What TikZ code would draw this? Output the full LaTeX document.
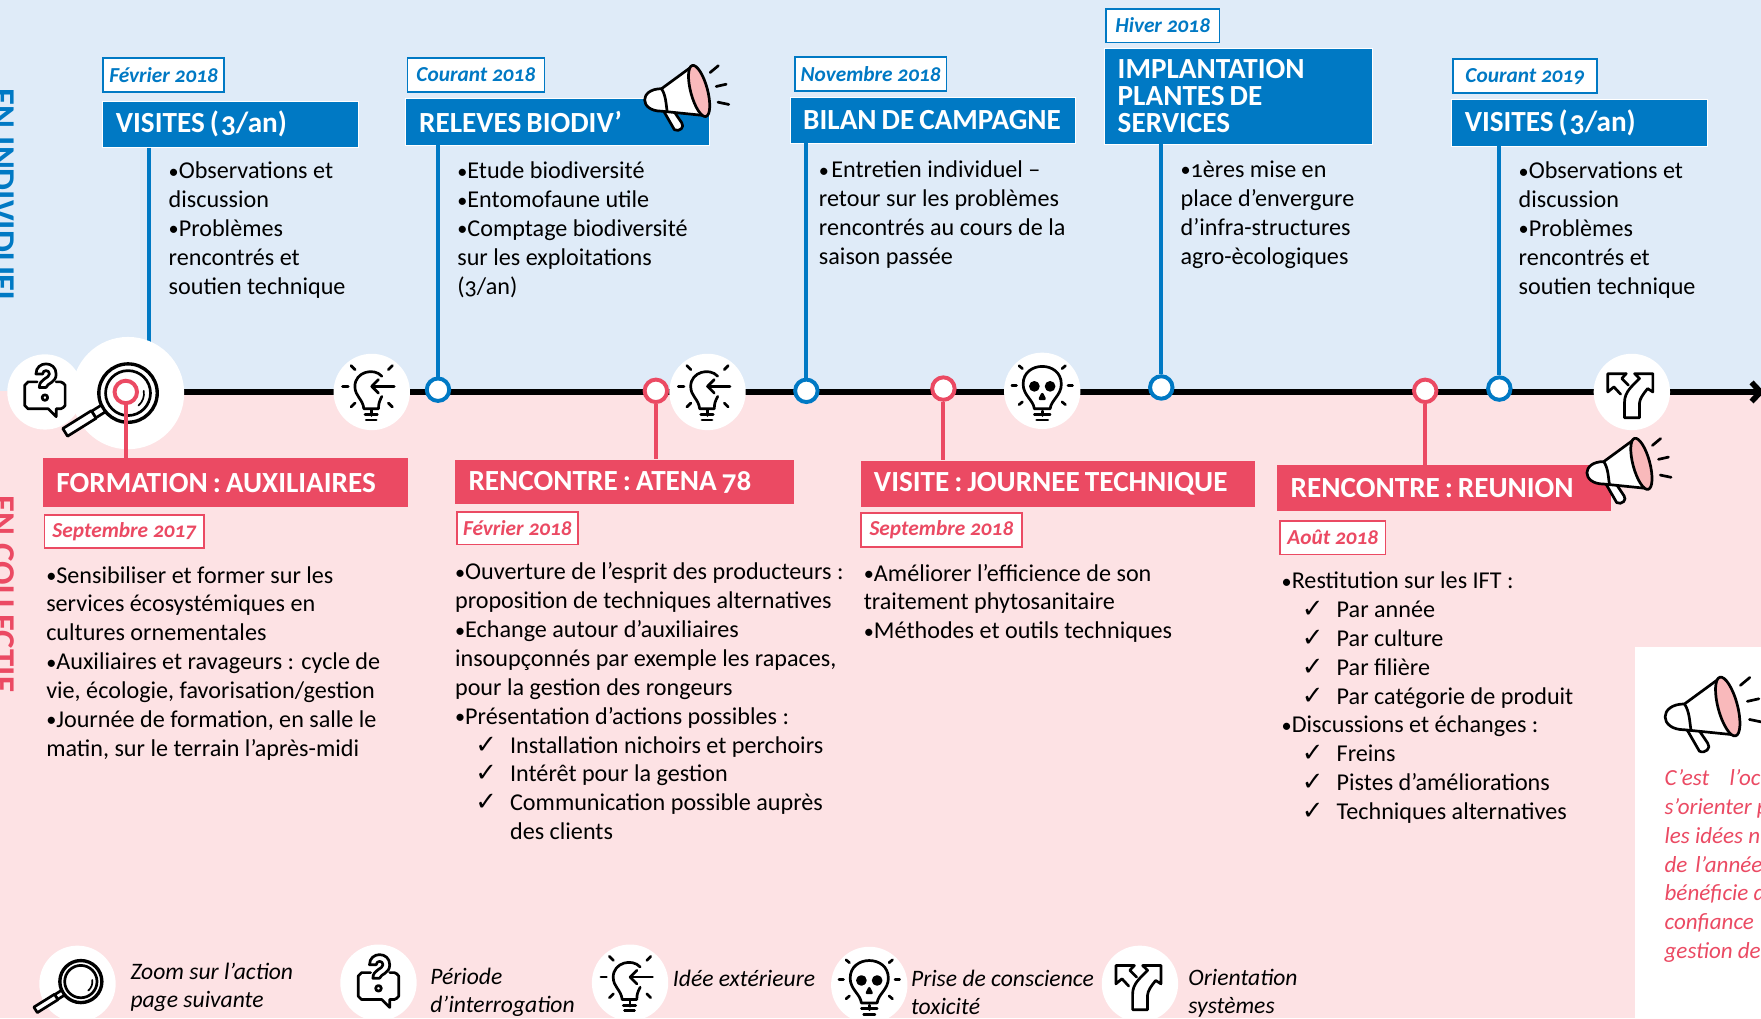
\documentclass[tikz,border=0pt]{standalone}
\usepackage{fontspec}
\usepackage{xcolor}
\setmainfont{Carlito}[Numbers=OldStyle]
\newfontfamily\symbfont{DejaVu Sans}
\usetikzlibrary{arrows.meta}
\definecolor{blue-main}{HTML}{0079C4}
\definecolor{pink-main}{HTML}{EB4A63}
\definecolor{blue-back}{HTML}{DFEBF8}
\definecolor{pink-back}{HTML}{FDE2E4}
\definecolor{pink-soft}{HTML}{F9B9BB}
\newcommand{\chkline}{\hspace*{18pt}\makebox[31pt][l]{\symbfont\fontsize{23}{23}\selectfont ✓}}
\newcommand{\pnt}{\makebox[9pt][l]{\raisebox{.5pt}{\fontsize{18}{18}\selectfont •}}}
\newcommand{\titlewords}[1]{{\spaceskip=.17em\relax #1}}
\tikzset{
    blue-title/.style = {draw=white, fill=blue-main, thin, text=white, anchor=north west, align=left, inner xsep=12pt, inner ysep=0pt, font=\fontsize{26}{24}\selectfont\bfseries},
    pink-title/.style = {blue-title, fill=pink-main, draw=none},
    blue-date/.style = {draw=blue-main, fill=white, line width=1.5pt, text=blue-main, anchor=north west, inner sep=0pt, font=\fontsize{19}{19}\selectfont\bfseries\itshape},
    pink-date/.style = {blue-date, draw=pink-main, text=pink-main},
    body-text/.style = {anchor=north west, align=left, inner sep=0pt, font=\fontsize{21.5}{25.7}\selectfont},
    legend-text/.style = {anchor=west, align=left, inner sep=0pt, font=\fontsize{21}{25}\selectfont\itshape},
    note-text/.style = {anchor=north west, align=left, inner sep=0pt, text=pink-main, font=\fontsize{20.5}{25.7}\selectfont\itshape},
    side-text/.style = {rotate=-90, anchor=base west, inner sep=0pt, font=\fontsize{31}{31}\selectfont\bfseries},
    icon-disc/.style = {circle, fill=white, inner sep=0pt, minimum size=#1},
    blue-mark/.style = {circle, draw=blue-main, fill=white, line width=3.5pt, inner sep=0pt, minimum size=20pt},
    pink-mark/.style = {blue-mark, draw=pink-main},
    blue-line/.style = {draw=blue-main, line width=3.5pt},
    pink-line/.style = {draw=pink-main, line width=3.5pt},
    icon-line/.style = {draw=black, line width=2.4pt, line cap=round, line join=round},
    zoom-icon/.pic = {
        \draw[icon-line, line width=3pt] (0,0) circle (26);
        \draw[icon-line] (0,0) circle (20);
        \draw[icon-line, line width=1.5pt] (14,-2) arc (-10:50:14);
        \draw[icon-line, fill=white, rotate=32] (-36,-3.5) rectangle (-26,3.5);
        \draw[icon-line, fill=white, rotate=32] (-66,-4) rectangle (-36,4);
    },
    quest-icon/.pic = {
        \draw[icon-line] (-7,-9) -- (-15,-9) to[bend right=20] (-18,-6) -- (-18,12) to[bend right=20] (-15,15) -- (3,15) -- (10,22) -- (10,15) -- (14,15) to[bend right=20] (18,12) -- (18,-6) to[bend right=20] (14,-9) -- (10,-9);
        \draw[icon-line] (-8,-16) .. controls (-8,-28) and (10,-28) .. (10,-16) .. controls (10,-8) and (2,-8) .. (1,-4) -- (-5,-4) .. controls (-5,-12) and (4,-12) .. (4,-16) .. controls (4,-20) and (-2,-20) .. (-2,-16) -- cycle;
        \draw[icon-line] (0,5) circle (2.5);
    },
    bulb-icon/.pic = {
        \draw[icon-line] (9,-14) .. controls (2,-22) and (-15,-18) .. (-15,-5) .. controls (-15,4) and (-8,6) .. (-7,15) -- (6,15) .. controls (6,10) and (7,8) .. (9,4);
        \draw[icon-line] (-6,20) -- (5,20) (-5,25) -- (4,25);
        \draw[icon-line] (20,-5) -- (0,-5);
        \draw[icon-line] (6,-11) -- (0,-5) -- (6,1);
        \foreach \a in {90,135,45,180,225,-45} {\draw[icon-line] (\a:21) ++(0,-5) -- ++(\a:5);}
    },
    skull-icon/.pic = {
        \draw[icon-line] (-7,16) .. controls (-8,8) and (-17,4) .. (-17,-6) .. controls (-17,-27) and (17,-27) .. (17,-6) .. controls (17,4) and (8,8) .. (7,16) -- cycle;
        \draw[icon-line, fill=black] (-7,-4) circle (3.5) (7,-4) circle (3.5);
        \draw[icon-line, fill=black] (0,3) -- (-2,7) -- (2,7) -- cycle;
        \draw[icon-line] (-7,21) -- (7,21) (-5,26) -- (5,26);
        \foreach \a in {90,140,40,180,0,220,-40} {\draw[icon-line] (\a:23) ++(0,-5) -- ++(\a:4);}
    },
    fork-icon/.pic = {
        \draw[icon-line] (-6.5,23) -- (6.8,23) -- (6.8,10) .. controls (7,6) and (10,2) .. (14,-3) -- (18.7,0) -- (18.7,-16.3) -- (2.4,-16.3) -- (6.8,-12) .. controls (0,-5) and (-6.5,0) .. (-6.5,9) -- cycle;
        \draw[icon-line] (-5,-16.3) -- (-21.4,-16.3) -- (-21.4,0) -- (-16,-4.5) -- (-10,2);
        \draw[icon-line] (-5,-16.3) -- (-9,-12) -- (-3,-6);
    },
    horn-icon/.pic = {
        \draw[icon-line, fill=white] (-19,12) -- (-9.5,28.5) .. controls (-5,31) and (0,26) .. (-3,22.4) -- (-10,12) -- cycle;
        \draw[icon-line, fill=white] (7,-28.5) -- (-21,-8) .. controls (-41,-8) and (-41,12) .. (-21,12) -- (18.5,16) -- cycle;
        \draw[icon-line, fill=pink-soft, rotate around={-75:(12.5,-6)}] (12.5,-6) ellipse (23.5 and 7.5);
        \draw[icon-line] (-21,-8) .. controls (-17,-2) and (-17,6) .. (-16,12);
        \draw[icon-line] (22.3,-22.4) -- (29.6,-28.5) (27.7,-10) -- (36.6,-12) (29.3,4) -- (38.9,6);
    },
}
\begin{document}
\begin{tikzpicture}[x=1pt, y=-1pt]
\useasboundingbox (0,0) rectangle (1568,906.6);
\clip (0,0) rectangle (1568,906.6);
\fill[blue-back] (0,0) rectangle (1568,348);
\fill[pink-back] (0,348) rectangle (1568,906.6);
\fill[white] (1456,576) rectangle (1568,906.6);

\node[side-text, text=blue-main] (side-indiv) at (-8,79) {EN INDIVIDUEL};
\node[side-text, text=pink-main] (side-coll) at (-8,441) {EN COLLECTIF};

\coordinate (axis-start) at (114,349);
\coordinate (axis-end) at (1571,349);
\draw[line width=5pt, -{Straight Barb[length=8pt, width=17pt]}] (axis-start) -- (axis-end);

\node[blue-title, text width=204pt, minimum height=41pt] (visites-a) at (91,90) {\titlewords{VISITES (\hspace{2pt}3/an)}};
\node[blue-title, text width=246pt, minimum height=42pt] (releves) at (361,87) {\titlewords{RELEVES BIODIV’}};
\node[blue-title, text width=230pt, minimum height=41pt] (bilan) at (703,86) {\titlewords{BILAN DE CAMPAGNE}};
\node[blue-title, text width=215pt, minimum height=85pt] (implant) at (983,43) {\titlewords{IMPLANTATION}\\\titlewords{PLANTES DE}\\\titlewords{SERVICES}};
\node[blue-title, text width=204pt, minimum height=42pt] (visites-b) at (1292,88) {\titlewords{VISITES (\hspace{2pt}3/an)}};

\node[pink-title, text width=301pt, minimum height=43pt] (formation) at (38,408) {\titlewords{FORMATION : AUXILIAIRES}};
\node[pink-title, text width=278pt, minimum height=40pt] (atena) at (405,409) {\titlewords{RENCONTRE : ATENA 78}};
\node[pink-title, text width=327pt, minimum height=41pt] (journee) at (766,410) {\titlewords{VISITE : JOURNEE TECHNIQUE}};
\node[pink-title, text width=273pt, minimum height=41pt] (reunion) at (1137,414) {\titlewords{RENCONTRE : REUNION}};

\node[blue-date, minimum width=108pt, minimum height=30pt] (date-a) at (91,51) {Février 2018};
\node[blue-date, minimum width=122pt, minimum height=30pt] (date-b) at (362,51) {Courant 2018};
\node[blue-date, minimum width=135pt, minimum height=30pt] (date-c) at (707,50) {Novembre 2018};
\node[blue-date, minimum width=101pt, minimum height=30pt] (date-d) at (984,7) {Hiver 2018};
\node[blue-date, minimum width=128pt, minimum height=30pt] (date-e) at (1293,52) {Courant 2019};

\node[pink-date, minimum width=142pt, minimum height=29pt] (date-f) at (39,458) {Septembre 2017};
\node[pink-date, minimum width=108pt, minimum height=29pt] (date-g) at (406,455) {Février 2018};
\node[pink-date, minimum width=143pt, minimum height=30pt] (date-h) at (766,456) {Septembre 2018};
\node[pink-date, minimum width=94pt, minimum height=30pt] (date-i) at (1139,463) {Août 2018};

\coordinate (mark-a) at (133,320);
\draw[blue-line] (visites-a.south -| mark-a) -- (mark-a);

\node[blue-mark] (mark-b) at (390,347) {};
\node[blue-mark] (mark-c) at (718,348) {};
\node[blue-mark] (mark-d) at (1034,345) {};
\node[blue-mark] (mark-e) at (1335,346) {};
\node[pink-mark] (mark-g) at (584,348) {};
\node[pink-mark] (mark-h) at (840,346) {};
\node[pink-mark] (mark-i) at (1269,348) {};

\draw[blue-line] (releves.south -| mark-b) -- (mark-b);
\draw[blue-line] (bilan.south -| mark-c) -- (mark-c);
\draw[blue-line] (implant.south -| mark-d) -- (mark-d);
\draw[blue-line] (visites-b.south -| mark-e) -- (mark-e);
\draw[pink-line] (mark-g) -- (atena.north -| mark-g);
\draw[pink-line] (mark-h) -- (journee.north -| mark-h);
\draw[pink-line] (mark-i) -- (reunion.north -| mark-i);

\node[icon-disc=67pt] (disc-quest) at (40,349) {};
\node[icon-disc=100pt] (disc-zoom) at (114,350) {};
\node[icon-disc=68pt] (disc-bulb-a) at (331,349) {};
\node[icon-disc=68pt] (disc-bulb-b) at (630,349) {};
\node[icon-disc=68pt] (disc-skull) at (928,348) {};
\node[icon-disc=68pt] (disc-fork) at (1453,349) {};
\pic at (disc-quest) {quest-icon};
\pic at (disc-zoom) {zoom-icon};
\pic at (disc-bulb-a) {bulb-icon};
\pic at (disc-bulb-b) {bulb-icon};
\pic at (disc-skull) {skull-icon};
\pic at (disc-fork) {fork-icon};

\node[pink-mark] (mark-f) at (112,349) {};
\draw[pink-line] (mark-f) -- (formation.north -| mark-f);

\pic at (610,87) {horn-icon};
\pic at (1449,419) {horn-icon};
\pic[scale=1.15] at (1524,636) {horn-icon};

\node[body-text] (body-a) at (150,144) {\pnt Observations et\\discussion\\\pnt Problèmes\\rencontrés et\\soutien technique};
\node[body-text] (body-b) at (407,144) {\pnt Etude biodiversité\\\pnt Entomofaune utile\\\pnt Comptage biodiversité\\sur les exploitations\\(3/an)};
\node[body-text] (body-c) at (729,143) {\pnt\hspace{2pt}Entretien individuel –\\retour sur les problèmes\\rencontrés au cours de la\\saison passée};
\node[body-text] (body-d) at (1051,143) {\pnt 1ères mise en\\place d’envergure\\d’infra-structures\\agro-ècologiques};
\node[body-text] (body-e) at (1352,144) {\pnt Observations et\\discussion\\\pnt Problèmes\\rencontrés et\\soutien technique};

\node[body-text] (body-f) at (41,504) {\pnt Sensibiliser et former sur les\\services écosystémiques en\\cultures ornementales\\\pnt Auxiliaires et ravageurs : cycle de\\vie, écologie, favorisation/gestion\\\pnt Journée de formation, en salle le\\matin, sur le terrain l’après-midi};
\node[body-text] (body-g) at (405,501) {\pnt Ouverture de l’esprit des producteurs :\\proposition de techniques alternatives\\\pnt Echange autour d’auxiliaires\\insoupçonnés par exemple les rapaces,\\pour la gestion des rongeurs\\\pnt Présentation d’actions possibles :\\\chkline Installation nichoirs et perchoirs\\\chkline Intérêt pour la gestion\\\chkline Communication possible auprès\\\hspace*{49pt}des clients};
\node[body-text] (body-h) at (769,502) {\pnt Améliorer l’efficience de son\\traitement phytosanitaire\\\pnt Méthodes et outils techniques};
\node[body-text] (body-i) at (1141,509) {\pnt Restitution sur les IFT :\\\chkline Par année\\\chkline Par culture\\\chkline Par filière\\\chkline Par catégorie de produit\\\pnt Discussions et échanges :\\\chkline Freins\\\chkline Pistes d’améliorations\\\chkline Techniques alternatives};

\node[note-text] (note) at (1482,685) {C’est\hspace{18pt}l’oc\\s’orienter p\\les idées n\\de\hspace{7pt}l’année\\bénéficie d\\confiance\\gestion de};

\node[icon-disc=68pt] (leg-zoom) at (69,876) {};
\node[icon-disc=68pt] (leg-quest) at (337,875) {};
\node[icon-disc=68pt] (leg-bulb) at (561,875) {};
\node[icon-disc=68pt] (leg-skull) at (774,877) {};
\node[icon-disc=68pt] (leg-fork) at (1015,876) {};
\pic[scale=.72] at (72,874) {zoom-icon};
\pic at (leg-quest) {quest-icon};
\pic at (leg-bulb) {bulb-icon};
\pic at (leg-skull) {skull-icon};
\pic at (leg-fork) {fork-icon};
\node[legend-text] (leg-zoom-txt) at (116,879) {Zoom sur l’action\\page suivante};
\node[legend-text] (leg-quest-txt) at (383,883.5) {Période\\d’interrogation};
\node[legend-text] (leg-bulb-txt) at (599,871) {Idée extérieure};
\node[legend-text] (leg-skull-txt) at (811,884) {Prise de conscience\\toxicité};
\node[legend-text] (leg-fork-txt) at (1058,884) {Orientation\\systèmes};
\end{tikzpicture}
\end{document}
